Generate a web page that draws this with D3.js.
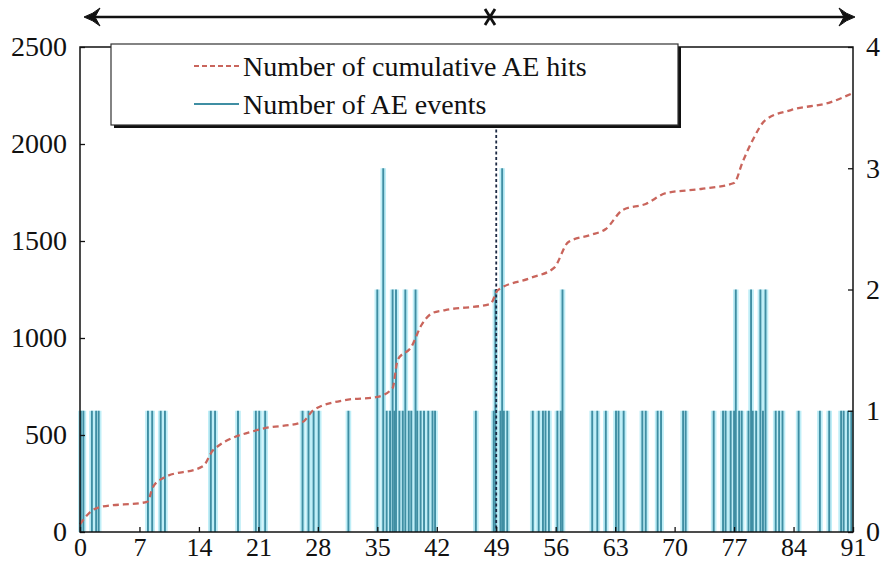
<!DOCTYPE html>
<html>
<head>
<meta charset="utf-8">
<script src="https://cdn.jsdelivr.net/npm/d3@7"></script>
<style>
  html, body { margin: 0; padding: 0; background: #fff; }
  svg { display: block; }
  text { font-family: "Liberation Serif", "Times New Roman", serif; fill: #111; }
</style>
</head>
<body>
<svg id="chart" width="884" height="565"></svg>
<script>
// Monitoring time axis and tick labels
const timeTicks = [0, 7, 14, 21, 28, 35, 42, 49, 56, 63, 70, 77, 84, 91];
const hitTicks = [0, 500, 1000, 1500, 2000, 2500];
const eventTicks = [0, 1, 2, 3, 4];
const stageBoundary = 49;

// AE events: time of each event and the number of events recorded there
const eventTimes = [
  0.1, 0.4, 1.4, 1.9, 2.2,
  8.0, 8.5, 9.5, 10.0,
  15.4, 15.9, 18.6,
  20.7, 21.1, 21.8,
  26.2, 26.9, 27.5, 28.1, 31.6,
  35.0, 35.7, 36.1, 36.5, 36.8, 37.0, 37.2, 37.6, 38.0, 38.3, 38.7, 39.0, 39.5, 39.7,
  40.1, 40.5, 41.0, 41.5, 41.8,
  46.6, 48.7, 48.9, 49.5, 49.7, 49.9, 50.3,
  53.3, 54.0, 54.5, 54.8, 55.2, 56.2, 56.6, 56.8,
  60.3, 60.9, 61.9, 63.1, 63.4, 64.0, 66.2, 66.6, 68.0, 68.4,
  71.0, 71.3, 74.6, 75.7, 76.0,
  76.6, 77.0, 77.2, 77.6, 77.9, 78.7, 79.0, 79.2, 79.6, 80.1, 80.4, 80.7,
  81.9, 82.3, 82.7, 84.6, 87.1, 88.2,
  89.6, 89.9, 90.4, 90.8
];
const eventCounts = [
  1, 1, 1, 1, 1,
  1, 1, 1, 1,
  1, 1, 1,
  1, 1, 1,
  1, 1, 1, 1, 1,
  2, 3, 1, 1, 2, 1, 2, 1, 1, 2, 1, 1, 2, 1,
  1, 1, 1, 1, 1,
  1, 1, 2, 1, 3, 1, 1,
  1, 1, 1, 1, 1, 1, 1, 2,
  1, 1, 1, 1, 1, 1, 1, 1, 1, 1,
  1, 1, 1, 1, 1,
  1, 1, 2, 1, 1, 1, 2, 1, 1, 2, 1, 2,
  1, 1, 1, 1, 1, 1,
  1, 1, 1, 1
];

// Cumulative AE hits over time
const cumTimes = [0, 1.2, 2.4, 7.9, 8.6, 9.8, 14.5, 15.7, 20.9, 26.2, 27.5, 31.2, 35.0, 36.8, 37.4,
  39.0, 40.2, 41.5, 43.0, 48.3, 49.2, 53.0, 55.8, 57.5, 60.1, 61.9, 63.9, 66.6, 69.0, 73.1,
  77.0, 78.0, 79.2, 80.7, 83.7, 88.4, 91.0];
const cumHits = [40, 103, 129, 155, 232, 278, 340, 423, 526, 567, 629, 680, 696, 742, 887,
  954, 1067, 1129, 1144, 1175, 1247, 1309, 1361, 1495, 1531, 1562, 1660, 1691, 1747, 1768,
  1799, 1907, 2021, 2124, 2175, 2216, 2263];

const legendLabels = ["Number of cumulative AE hits", "Number of AE events"];

const svg = d3.select("#chart");
const plotLeft = 80, plotRight = 853, plotTop = 47, plotBottom = 532;

const x = d3.scaleLinear().domain([0, 91]).range([plotLeft, plotRight]);
const yHits = d3.scaleLinear().domain([0, 2500]).range([plotBottom, plotTop]);
const yEvents = d3.scaleLinear().domain([0, 4]).range([plotBottom, plotTop]);

const barColor = "#3f8ea3";
const haloColor = "#bfeef7";
const curveColor = "#c9655c";

// Event bars: soft cyan halo under a thin teal bar
const events = eventTimes.map((t, i) => ({ t, n: eventCounts[i] }));
const bars = svg.append("g");
bars.selectAll("rect.halo").data(events).enter().append("rect")
  .attr("class", "halo")
  .attr("x", d => x(d.t) - 2.8)
  .attr("width", 5.6)
  .attr("y", d => yEvents(d.n))
  .attr("height", d => plotBottom - yEvents(d.n))
  .attr("fill", haloColor);
bars.selectAll("line.bar").data(events).enter().append("line")
  .attr("class", "bar")
  .attr("x1", d => x(d.t)).attr("x2", d => x(d.t))
  .attr("y1", d => yEvents(d.n)).attr("y2", plotBottom)
  .attr("stroke", barColor)
  .attr("stroke-width", 1.9);

// Stage boundary
svg.append("line")
  .attr("x1", x(stageBoundary)).attr("x2", x(stageBoundary))
  .attr("y1", plotTop).attr("y2", plotBottom)
  .attr("stroke", "#1d2a44")
  .attr("stroke-width", 1.8)
  .attr("stroke-dasharray", "3,2.5");

// Cumulative hits curve
const cum = cumTimes.map((t, i) => ({ t, v: cumHits[i] }));
svg.append("path")
  .datum(cum)
  .attr("fill", "none")
  .attr("stroke", curveColor)
  .attr("stroke-width", 2.3)
  .attr("stroke-dasharray", "6,4")
  .attr("d", d3.line().x(d => x(d.t)).y(d => yHits(d.v)).curve(d3.curveMonotoneX));

// Frame and axes
svg.append("rect")
  .attr("x", plotLeft).attr("y", plotTop)
  .attr("width", plotRight - plotLeft).attr("height", plotBottom - plotTop)
  .attr("fill", "none").attr("stroke", "#111").attr("stroke-width", 1.5);

const leftAxis = svg.append("g").attr("transform", `translate(${plotLeft},0)`)
  .call(d3.axisLeft(yHits).tickValues(hitTicks).tickSize(-5).tickPadding(13).tickFormat(d3.format("d")));
const rightAxis = svg.append("g").attr("transform", `translate(${plotRight},0)`)
  .call(d3.axisRight(yEvents).tickValues(eventTicks).tickSize(-5).tickPadding(13).tickFormat(d3.format("d")));
const bottomAxis = svg.append("g").attr("transform", `translate(0,${plotBottom})`)
  .call(d3.axisBottom(x).tickValues(timeTicks).tickSize(-5).tickPadding(6).tickFormat(d3.format("d")));

[[leftAxis, 28], [rightAxis, 28], [bottomAxis, 26]].forEach(([g, size]) => {
  g.select(".domain").remove();
  g.selectAll(".tick line").attr("stroke", "#111").attr("stroke-width", 1.3);
  g.selectAll(".tick text")
    .style("font-family", "'Liberation Serif', serif")
    .style("font-size", size + "px")
    .attr("fill", "#111");
});

// Legend box with drop shadow
const lg = { x: 111, y: 44, w: 567, h: 81 };
svg.append("rect")
  .attr("x", lg.x + 3).attr("y", lg.y + 3).attr("width", lg.w).attr("height", lg.h)
  .attr("fill", "#111");
svg.append("rect")
  .attr("x", lg.x).attr("y", lg.y).attr("width", lg.w).attr("height", lg.h)
  .attr("fill", "#fff").attr("stroke", "#333").attr("stroke-width", 1.2);

const legendRows = [
  { label: legendLabels[0], y: 66, color: curveColor, dash: "5,3" },
  { label: legendLabels[1], y: 104, color: barColor, dash: null }
];
legendRows.forEach(r => {
  svg.append("line")
    .attr("x1", 194).attr("x2", 239).attr("y1", r.y).attr("y2", r.y)
    .attr("stroke", r.color).attr("stroke-width", 1.8)
    .attr("stroke-dasharray", r.dash);
  svg.append("text")
    .attr("x", 243).attr("y", r.y + 10)
    .style("font-size", "28px")
    .text(r.label);
});

// Stage arrows across the top
const ay = 17, ax0 = 84, ax1 = 855, axm = 490;
svg.append("line")
  .attr("x1", ax0 + 4).attr("x2", ax1 - 4).attr("y1", ay).attr("y2", ay)
  .attr("stroke", "#111").attr("stroke-width", 2.4);
svg.append("path")
  .attr("d", `M${ax0},${ay} Q${ax0 + 9},${ay - 3} ${ax0 + 16},${ay - 9} L${ax0 + 11},${ay} L${ax0 + 16},${ay + 9} Q${ax0 + 9},${ay + 3} ${ax0},${ay} Z`)
  .attr("fill", "#111").attr("stroke", "#111").attr("stroke-width", 1);
svg.append("path")
  .attr("d", `M${ax1},${ay} Q${ax1 - 9},${ay - 3} ${ax1 - 16},${ay - 9} L${ax1 - 11},${ay} L${ax1 - 16},${ay + 9} Q${ax1 - 9},${ay + 3} ${ax1},${ay} Z`)
  .attr("fill", "#111").attr("stroke", "#111").attr("stroke-width", 1);
svg.append("path")
  .attr("d", `M${axm - 5},${ay - 8} L${axm + 5},${ay + 8} M${axm + 5},${ay - 8} L${axm - 5},${ay + 8}`)
  .attr("stroke", "#111").attr("stroke-width", 2.8);
</script>
</body>
</html>
